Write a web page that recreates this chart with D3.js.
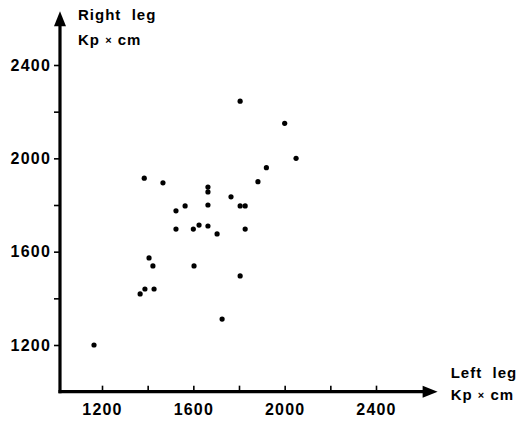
<!DOCTYPE html>
<html>
<head>
<meta charset="utf-8">
<script src="https://cdn.jsdelivr.net/npm/d3@7"></script>
<style>
	body { margin:0; background:#fff; }
	text { font-family:"Liberation Sans", Arial, sans-serif; font-weight:bold; fill:#000; }
</style>
</head>
<body>
<div id="idChart"></div>
<script>
// left leg / right leg torque, Kp x cm
var aLeftLeg=[1165,1805,2000,2050,1920,1883,1385,1467,1664,1664,1765,1564,1524,1664,1805,1827,1524,1600,1625,1664,1704,1827,1406,1423,1603,1805,1367,1388,1428,1726];
var aRightLeg=[1200,2245,2150,2000,1960,1900,1915,1895,1877,1856,1835,1796,1775,1800,1796,1796,1697,1697,1714,1710,1676,1697,1573,1539,1539,1496,1419,1440,1440,1311];
var aTicks=[1200,1400,1600,1800,2000,2200,2400];
var aLabelTicks=[1200,1600,2000,2400];

var iWidth=520;
var iHeight=421;

var mySvg=d3.select("#idChart").append("svg")
	.attr("width",iWidth)
	.attr("height",iHeight);

var xAxes=d3.scaleLinear().domain([1200,2400]).range([102,376]);
var yAxes=d3.scaleLinear().domain([1200,2400]).range([345,65]);

var xZero=xAxes(1016);
var yZero=yAxes(1000);
var xEnd=xAxes(2670);
var yEnd=yAxes(2630);

// axis lines
mySvg.append("line")
	.attr("x1",xZero).attr("y1",yZero+1.5)
	.attr("x2",xZero).attr("y2",yEnd+10)
	.attr("stroke","#000").attr("stroke-width",3.2);
mySvg.append("line")
	.attr("x1",xZero-1.5).attr("y1",yZero)
	.attr("x2",xEnd-10).attr("y2",yZero)
	.attr("stroke","#000").attr("stroke-width",3.2);

// arrow heads
mySvg.append("path")
	.attr("d","M"+xZero+","+yEnd+" L"+(xZero-6)+","+(yEnd+15)+" L"+(xZero+6)+","+(yEnd+15)+" Z")
	.attr("fill","#000");
mySvg.append("path")
	.attr("d","M"+xEnd+","+yZero+" L"+(xEnd-15)+","+(yZero-6)+" L"+(xEnd-15)+","+(yZero+6)+" Z")
	.attr("fill","#000");

function fnFormat(d){ return aLabelTicks.indexOf(d)>=0 ? d : ""; }

var myYAxis=mySvg.append("g")
	.attr("transform","translate("+xZero+",0)")
	.call(d3.axisLeft(yAxes).tickValues(aTicks).tickFormat(fnFormat).tickSize(6).tickPadding(3));
myYAxis.select(".domain").remove();
myYAxis.selectAll("line").attr("stroke-width",1.6);
myYAxis.selectAll("text").attr("font-size",16).attr("letter-spacing",1.2);

var myXAxis=mySvg.append("g")
	.attr("transform","translate(0,"+yZero+")")
	.call(d3.axisBottom(xAxes).tickValues(aTicks).tickFormat(fnFormat).tickSize(-6).tickPadding(12));
myXAxis.select(".domain").remove();
myXAxis.selectAll("line").attr("stroke-width",1.6);
myXAxis.selectAll("text").attr("font-size",16).attr("letter-spacing",1.2);

// points
mySvg.selectAll(".dot")
	.data(aLeftLeg)
	.enter().append("circle")
	.attr("class","dot")
	.attr("cx",function(d){ return xAxes(d); })
	.attr("cy",function(d,i){ return yAxes(aRightLeg[i]); })
	.attr("r",2.6)
	.attr("fill","#000");

// axis titles
function addLabel(x,y,s){
	mySvg.append("text")
		.attr("x",x).attr("y",y)
		.attr("font-size",15)
		.attr("letter-spacing",1)
		.style("white-space","pre")
		.text(s);
}
function addUnit(x,y){
	var myText=mySvg.append("text")
		.attr("x",x).attr("y",y)
		.attr("font-size",15)
		.attr("letter-spacing",1)
		.style("white-space","pre");
	myText.append("tspan").text("Kp ");
	myText.append("tspan").attr("font-size",11).attr("dy",-1).text("\u00d7");
	myText.append("tspan").attr("dy",1).text(" cm");
}
addLabel(xZero+18,20,"Right  leg");
addUnit(xZero+18,45);
addLabel(xEnd+13,378,"Left  leg");
addUnit(xEnd+13,400);
</script>
</body>
</html>
